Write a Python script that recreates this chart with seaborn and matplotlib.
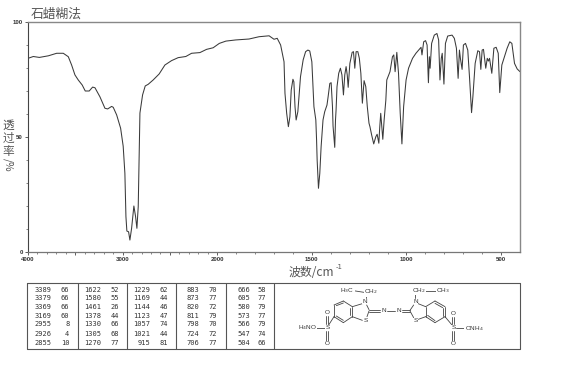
import numpy as np
import pandas as pd
import matplotlib
matplotlib.use("Agg")
import matplotlib.pyplot as plt
import seaborn as sns

wavenumber = [4000,3944,3880,3785,3697,3627,3574,3539,3504,3469,3427,3395,3353,3317,3292,3240,3187,3158,3116,3099,3063,3021,2994,2976,2965,2955,2937,2923,2905,2881,2863,2849,2835,2825,2817,2789,2761,2730,2677,2614,2553,2483,2413,2332,2271,2183,2113,2043,1989,1954,1902,1832,1779,1726,1700,1683,1665,1647,1642,1633,1624,1616,1609,1600,1595,1589,1583,1574,1560,1546,1533,1521,1511,1500,1489,1479,1475,1472,1465,1458,1451,1441,1432,1420,1414,1405,1398,1391,1388,1379,1375,1372,1367,1358,1349,1341,1333,1326,1319,1313,1308,1299,1287,1280,1273,1266,1257,1249,1241,1233,1224,1215,1207,1198,1193,1184,1173,1162,1155,1146,1141,1136,1125,1118,1109,1104,1087,1074,1067,1060,1051,1042,1033,1024,1015,1002,989,968,950,932,923,918,909,899,891,884,879,875,867,853,839,830,823,816,811,802,794,782,759,747,736,727,720,715,706,699,688,676,667,656,649,637,623,614,607,600,593,581,573,567,561,549,538,526,515,507,496,482,468,454,443,429,415,400]
transmittance = [84.2,85,84.6,85.3,86.4,86.4,84.9,81.3,77,74.8,72.6,70,70,71.7,71.4,67.5,62.5,62.2,63.3,62.9,59.6,53.8,46,34.2,15.4,9.1,8.8,5.2,10.3,20,15.4,10.3,19.7,43,60.4,68.3,72.2,72.9,74.8,77.4,81.3,83.2,84.5,85,86.4,86.7,88.1,88.8,90.7,91.7,92.2,92.6,93.6,94,92.5,92.9,90,82.7,69,60.3,54.5,58.8,70.4,75.1,74,63.2,57.4,61,76.2,83.5,87.1,87.8,87.4,82.7,63.2,57.4,48.7,40,27.7,34.2,45.8,57.4,61,63.9,67.5,73.3,73.6,63.2,54.8,45.5,57.4,61.7,71.9,77.7,79.9,77,68.3,77,80.6,77,71.6,82,86.8,87.1,79.9,87.1,87.1,84.2,77.7,64.7,74.5,71.9,63.2,56,54.5,50.9,47,50.1,51.2,47.3,54.5,60.3,49,57.4,66,74.8,78.4,84.9,85.7,78.4,86.8,77.7,60.3,47,63.2,74.8,79.9,84.2,86.4,88.1,89,85.7,91.4,91.9,90,73.6,84.9,79.9,90.7,94.3,95,92.2,74.8,84.2,86.4,73,90.7,93.9,94.3,92.9,88.6,75.5,87.8,84.2,79.4,90,90.7,87.8,76.2,60.6,67.5,82,87.5,87.1,79.4,87.8,88.1,79.9,84.2,83,84.2,77.7,88.6,89,86.4,69.3,81.3,84.9,88.6,91.4,90.7,82,79.6,78.4]

x_major_ticks = [4000,3500,3000,2500,2000,1500,1000,500]
x_major_labels = ["4000","","3000","","2000","1500","1000","500"]
x_minor_ticks = list(range(500, 4000, 100))
y_major_ticks = [0,50,100]
y_minor_ticks = list(range(0, 101, 10))

table_columns = [
    ([3389,3379,3369,3169,2955,2926,2855],[66,66,66,60,8,4,10]),
    ([1622,1580,1461,1378,1330,1305,1270],[52,55,26,44,66,68,77]),
    ([1229,1169,1144,1123,1057,1021,915],[62,44,46,47,74,44,81]),
    ([883,873,820,811,798,724,706],[70,77,72,79,70,72,77]),
    ([666,605,580,573,566,547,504],[58,77,79,77,79,74,66]),
]

W, H = 570, 366
sns.set_theme(style="white")
plt.rcParams["font.family"] = ["Noto Sans CJK SC", "DejaVu Sans"]
fig = plt.figure(figsize=(W/100, H/100), dpi=100)
GREY = "#555555"

# background layer in pixel coordinates: table and structure
bg = fig.add_axes([0, 0, 1, 1])
bg.set_xlim(0, W); bg.set_ylim(H, 0); bg.axis("off")

# table frame
bg.plot([27,520,520,27,27],[283,283,349,349,283],color="#555555",lw=0.8)
for sx in [78,127,176,226,274]:
    bg.plot([sx,sx],[283,349],color="#555555",lw=0.8)
row_y = [289.7,298.3,307,315.7,324.3,333.5,342.7]
col_right = [(51.7,69.3),(100.7,119),(150,168),(199.3,216.7),(250,266)]
for (ws,ts),(xa,xb) in zip(table_columns,col_right):
    for w_,t_,ry in zip(ws,ts,row_y):
        bg.text(xa,ry,str(w_),ha="right",va="center",fontsize=5,family="DejaVu Sans Mono",color="#333333")
        bg.text(xb,ry,str(t_),ha="right",va="center",fontsize=5,family="DejaVu Sans Mono",color="#333333")

# structure, positions given in 3x crop units of its panel
def P(zx, zy):
    return 270+zx/3, 275+zy/3
def bond(a, b, c="#444444", lw=0.6):
    (x0,y0),(x1,y1) = P(*a),P(*b)
    bg.plot([x0,x1],[y0,y1],color=c,lw=lw,solid_capstyle="round")
segments = [
 ((192,90),(220,78)),((220,78),(247,95)),((247,95),(247,125)),((247,125),(220,143)),((220,143),(192,125)),((192,125),(192,90)),
 ((199,92),(220,84)),((241,99),(241,121)),((199,123),(220,136)),
 ((247,95),(277,86)),((290,90),(297,104)),((297,108),(291,125)),((247,125),(277,136)),
 ((287,70),(287,57)),((250,47),(282,52)),
 ((297,106),(330,106)),((297,111),(330,111)),((350,108),(375,108)),((395,106),(420,106)),((395,111),(420,111)),
 ((420,106),(431,90)),((420,108),(431,128)),
 ((442,85),(467,95)),((445,133),(467,125)),
 ((467,95),(495,78)),((495,78),(525,95)),((525,95),(525,125)),((525,125),(495,143)),((495,143),(467,125)),((467,125),(467,95)),
 ((495,85),(518,98)),((473,121),(495,137)),((519,122),(519,99)),
 ((436,70),(436,57)),((462,47),(500,47)),
 ((192,125),(176,150)),((169,124),(169,148)),((175,124),(175,148)),((169,168),(169,197)),((175,168),(175,197)),((135,158),(164,158)),
 ((525,125),(546,150)),((547,125),(547,148)),((553,125),(553,148)),((547,168),(547,197)),((553,168),(553,197)),((558,158),(587,158)),
]
for a,b in segments:
    bond(a,b)
labels = [("H$_3$C",232,47),("CH$_2$",302,51),("N",285,80),("S",287,138),("N",340,108),("N",385,108),
          ("S",437,137),("N",436,80),("CH$_2$",447,47),("CH$_3$",520,47),("O",172,113),("O",172,205),("S",172,158),
          ("H$_4$NO",113,158),("O",550,115),("O",550,205),("S",550,158),("ONH$_4$",612,160)]
for s,zx,zy in labels:
    x_,y_ = P(zx,zy)
    bg.text(x_,y_,s,ha="center",va="center",fontsize=4.6,color="#333333",family="Liberation Sans",
            math_fontfamily="dejavusans",bbox=dict(fc="white",ec="none",pad=0.2))

# spectrum
ax = fig.add_axes([28/W, (H-252)/H, (520-28)/W, (252-22)/H])
ax.patch.set_alpha(0)
def fwd(v):
    return np.interp(v,[400,2000,4000],[0,1600,2600])
def inv(v):
    return np.interp(v,[0,1600,2600],[400,2000,4000])
ax.set_xscale("function",functions=(fwd,inv))
df = pd.DataFrame({"wavenumber":wavenumber,"T":transmittance})
sns.lineplot(data=df,x="wavenumber",y="T",sort=False,estimator=None,color="#3a3a3a",lw=0.75,ax=ax)
ax.set_xlim(4000,400); ax.set_ylim(0,100)
ax.set_xlabel(""); ax.set_ylabel("")
ax.set_xticks(x_major_ticks); ax.set_xticklabels(x_major_labels)
ax.set_xticks(x_minor_ticks,minor=True)
ax.set_yticks(y_major_ticks); ax.set_yticklabels([str(v) for v in y_major_ticks])
ax.set_yticks(y_minor_ticks,minor=True)
ax.tick_params(axis="both",which="major",length=2.2,width=0.6,color="#444444",labelsize=4.4,labelcolor="#333333",pad=1.5,bottom=True,left=True)
ax.tick_params(axis="both",which="minor",length=1.2,width=0.5,color="#555555",bottom=True,left=True)
for lab in ax.get_xticklabels()+ax.get_yticklabels():
    lab.set_family("Liberation Sans"); lab.set_fontweight("bold")
for side,c,lw in [("left","#444444",0.8),("bottom","#777777",0.9),("top","#888888",1.0),("right","#888888",1.0)]:
    ax.spines[side].set_visible(True); ax.spines[side].set_color(c); ax.spines[side].set_linewidth(lw)

# texts
bg.text(31,14,"石蜡糊法",ha="left",va="center",fontsize=9.2,color=GREY)
for ch,yy in zip("透过率",[125,138,151]):
    bg.text(8.5,yy,ch,ha="center",va="center",fontsize=8.4,color=GREY)
bg.text(8.5,165,"/%",ha="center",va="center",rotation=270,fontsize=7.5,color=GREY)
bg.text(289,272,"波数/cm",ha="left",va="center",fontsize=8.6,color=GREY)
bg.text(335.5,267,"-1",ha="left",va="center",fontsize=5,color=GREY,family="DejaVu Sans")

fig.savefig("out.png",dpi=100)
